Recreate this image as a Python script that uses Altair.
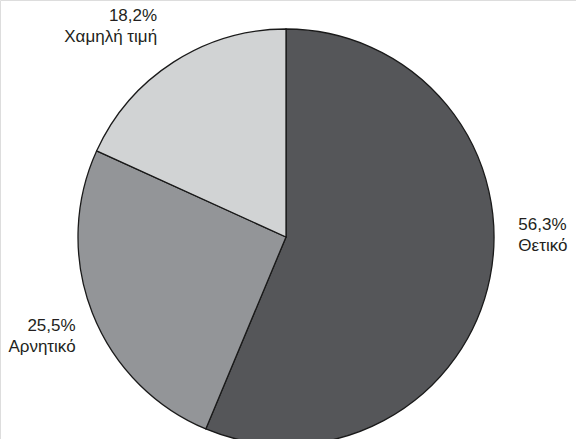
import altair as alt
import pandas as pd

# Survey responses, shares in percent
categories = ["Θετικό", "Αρνητικό", "Χαμηλή τιμή"]
shares = [56.3, 25.5, 18.2]
share_labels = ["56,3%", "25,5%", "18,2%"]
slice_colors = ["#555659", "#939598", "#d1d3d4"]

df = pd.DataFrame({
    "category": categories,
    "share": shares,
    "label": [f"{p}\n{c}" for p, c in zip(share_labels, categories)],
    "order": list(range(len(categories))),
})

FONT = "Liberation Sans Narrow, Arial Narrow, sans-serif"
CX, CY, R = 286, 237, 208

theta_scale = alt.Scale(domain=[0, 100], range=[0, 6.283185307179586])

base = alt.Chart(df).transform_window(
    cum="sum(share)", sort=[alt.SortField("order")], frame=[None, 0]
).transform_calculate(
    mid="datum.cum - datum.share / 2"
)

pie = base.mark_arc(radius=R, stroke="#1a1a1a", strokeWidth=1.3).encode(
    theta=alt.Theta("share:Q", stack=True, scale=theta_scale),
    order=alt.Order("order:Q"),
    color=alt.Color("category:N", scale=alt.Scale(domain=categories, range=slice_colors), legend=None),
    x=alt.value(CX),
    y=alt.value(CY),
)


def label_layer(cat, radius, align, dx=0, dy=0):
    return base.transform_filter(alt.datum.category == cat).mark_text(
        radius=radius, align=align, baseline="middle", dx=dx, dy=dy,
        font=FONT, fontSize=17, lineHeight=21, lineBreak="\n", color="#231f20",
    ).encode(
        theta=alt.Theta("mid:Q", stack=False, scale=theta_scale),
        text="label:N",
        x=alt.value(CX),
        y=alt.value(CY),
    )


labels = (
    label_layer("Θετικό", 237, "left", dy=-59)
    + label_layer("Αρνητικό", 226, "right", dy=6)
    + label_layer("Χαμηλή τιμή", 253, "right", dx=8, dy=-8)
)

chart = alt.layer(pie, labels).properties(
    width=576, height=439, padding=0, autosize=alt.AutoSizeParams(type="none")
).configure_view(stroke=None).configure(background="white")

chart.save("out.html", embed_options={"renderer": "svg", "actions": False})
